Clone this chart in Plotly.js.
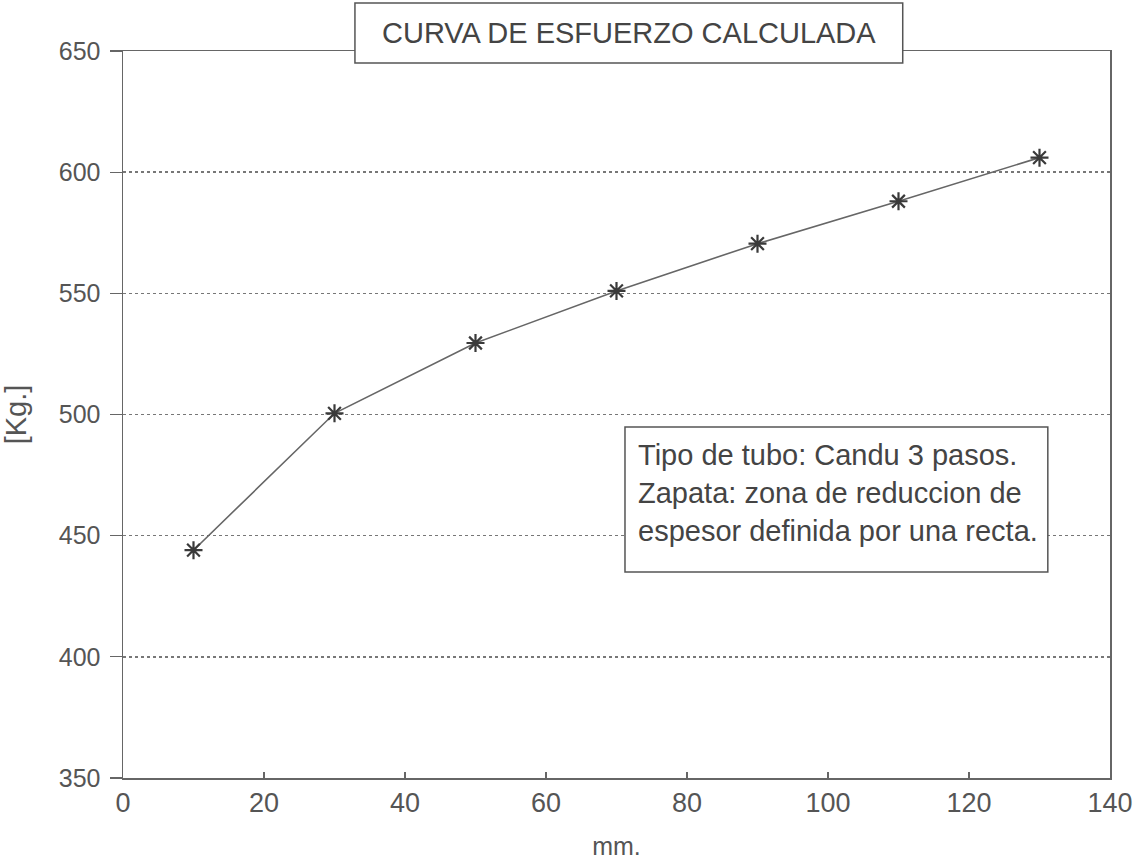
<!DOCTYPE html>
<html>
<head>
<meta charset="utf-8">
<script src="https://cdn.plot.ly/plotly-3.0.1.min.js"></script>
<style>html,body{margin:0;padding:0;background:#fff;}#chart{width:1145px;height:860px;}</style>
</head>
<body>
<div id="chart"></div>
<script>
const xValues = [10, 30, 50, 70, 90, 110, 130];
const yValues = [444, 500.5, 529.5, 551, 570.5, 588, 606];
const chartTitle = "CURVA DE ESFUERZO CALCULADA";
const xLabel = "mm.";
const yLabel = "[Kg.]";
const noteLines = [
  "Tipo de tubo: Candu 3 pasos.",
  "Zapata: zona de reduccion de",
  "espesor definida por una recta."
];

const FONT = "Liberation Sans, Arial, sans-serif";
const INK = "#555";

const trace = {
  x: xValues, y: yValues, type: "scatter", mode: "lines+markers",
  line: {color: "#666", width: 1.6},
  marker: {symbol: "asterisk-open", size: 15, color: "#3a3a3a", line: {color: "#3a3a3a", width: 2.2}},
  hoverinfo: "skip"
};

const noteY = [0.4443, 0.392, 0.3398];
const annotations = [
  {xref: "paper", yref: "paper", x: 0.5127, y: 1.0248, xanchor: "center", yanchor: "middle",
   text: chartTitle, showarrow: false, font: {family: FONT, size: 29, color: "#444"}}
].concat(noteLines.map((t, i) => ({
  xref: "paper", yref: "paper", x: 0.5198, y: noteY[i], xanchor: "left", yanchor: "middle",
  text: t, showarrow: false, font: {family: FONT, size: 29, color: "#444"}
})));

const shapes = [
  {type: "rect", xref: "paper", yref: "paper", x0: 0.235, x1: 0.790, y0: 0.9835, y1: 1.066,
   line: {color: "#555", width: 1.5}, fillcolor: "#fff", layer: "above"},
  {type: "rect", xref: "paper", yref: "paper", x0: 0.5086, x1: 0.937, y0: 0.2834, y1: 0.4828,
   line: {color: "#555", width: 1.5}, fillcolor: "#fff", layer: "above"}
];

const layout = {
  width: 1145, height: 860,
  margin: {l: 123, r: 35, t: 51, b: 82},
  paper_bgcolor: "#fff", plot_bgcolor: "#fff",
  showlegend: false,
  font: {family: FONT, color: INK},
  xaxis: {
    range: [0, 140], tickvals: [0, 20, 40, 60, 80, 100, 120, 140],
    ticks: "inside", ticklen: 6, tickcolor: "#666", tickwidth: 1.2,
    showline: true, linecolor: "#666", linewidth: 1.5, mirror: true,
    showgrid: false, zeroline: false,
    tickfont: {family: FONT, size: 27, color: INK},
    title: {text: xLabel, font: {family: FONT, size: 25, color: INK}, standoff: 21}
  },
  yaxis: {
    range: [350, 650], tickvals: [350, 400, 450, 500, 550, 600, 650],
    ticks: "outside", ticklen: 12, tickcolor: "#666", tickwidth: 1.2,
    ticklabelstandoff: 4,
    showline: true, linecolor: "#666", linewidth: 1.5, mirror: true,
    showgrid: true, gridcolor: "#777", gridwidth: 1.5, griddash: "dot",
    zeroline: false,
    tickfont: {family: FONT, size: 25, color: INK},
    title: {text: yLabel, font: {family: FONT, size: 29, color: INK}, standoff: 26}
  },
  shapes: shapes,
  annotations: annotations
};

Plotly.newPlot("chart", [trace], layout, {displayModeBar: false, staticPlot: true});
</script>
</body>
</html>
